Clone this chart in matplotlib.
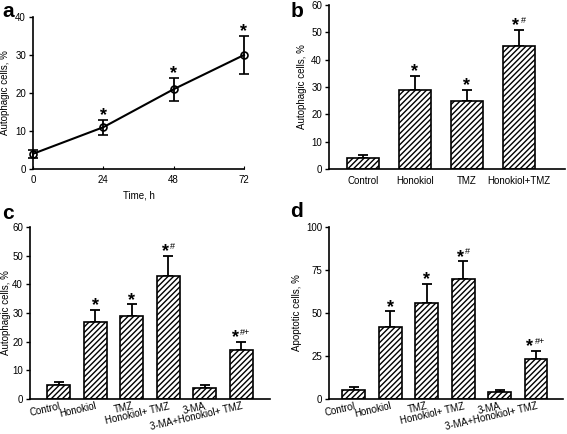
import matplotlib
matplotlib.use("Agg")
import matplotlib.pyplot as plt
import numpy as np

plt.rcParams['font.family'] = ['Liberation Sans', 'DejaVu Sans']
plt.rcParams['hatch.linewidth'] = 1.0
plt.rcParams['axes.linewidth'] = 1.2

# --- data ---
# panel a: time course
time_h = [0, 24, 48, 72]
auto_time = [4, 11, 21, 30]
auto_time_err = [1, 2, 3, 5]
marks_a = ["", "*", "*", "*"]

# panel b
groups_b = ["Control", "Honokiol", "TMZ", "Honokiol+TMZ"]
auto_b = [4, 29, 25, 45]
auto_b_err = [1, 5, 4, 6]
marks_b = ["", "*", "*", "*#"]

# panel c and d
groups_cd = ["Control", "Honokiol", "TMZ", "Honokiol+ TMZ", "3-MA", "3-MA+Honokiol+ TMZ"]
auto_c = [5, 27, 29, 43, 4, 17]
auto_c_err = [1, 4, 4, 7, 1, 3]
apop_d = [5, 42, 56, 70, 4, 23]
apop_d_err = [2, 9, 11, 10, 1, 5]
marks_cd = ["", "*", "*", "*#", "", "*#+"]


def put_mark(ax, x, y, mark):
    # zvezdica + manjsi znaki (# +) desno od nje
    if not mark:
        return
    star, rest = mark[0], mark[1:]
    dx = -2.2 * len(rest)
    ax.annotate(star, xy=(x, y), xytext=(dx, -0.3), textcoords="offset points",
                ha="center", va="baseline", fontsize=13, fontweight="bold",
                annotation_clip=False)
    if rest:
        ax.annotate(rest, xy=(x, y), xytext=(dx + 3.6, 5.0), textcoords="offset points",
                    ha="left", va="baseline", fontsize=6.5, annotation_clip=False)


def style_axes(ax):
    ax.spines["top"].set_visible(False)
    ax.spines["right"].set_visible(False)
    ax.tick_params(axis="y", direction="out", length=3, width=1, labelsize=7, pad=2)
    ax.tick_params(axis="x", labelsize=7)


def bar_panel(ax, vals, errs, marks, labels, xlim, width, ymax, yticks, ylabel, rot):
    x = np.arange(len(vals))
    ax.bar(x, vals, width=width, color="white", edgecolor="black", hatch="//////",
           linewidth=1.2, zorder=2)
    ax.errorbar(x, vals, yerr=[np.zeros(len(errs)), errs], fmt="none", ecolor="black",
                elinewidth=1.3, capsize=3.5, capthick=1.3, zorder=1)
    for xi, v, e, m in zip(x, vals, errs, marks):
        put_mark(ax, xi, v + e, m)
    ax.set_xlim(*xlim)
    ax.set_ylim(0, ymax)
    ax.set_yticks(yticks)
    ax.set_xticks(x)
    if rot:
        ax.set_xticklabels(labels, rotation=13, ha="right", va="top",
                           rotation_mode="anchor", fontsize=6.2)
        ax.tick_params(axis="x", length=0, pad=1.5)
    else:
        ax.set_xticklabels(labels)
        ax.tick_params(axis="x", length=0, pad=5)
    ax.set_ylabel(ylabel, fontsize=7, labelpad=3)
    style_axes(ax)


fig = plt.figure(figsize=(5.67, 4.34), dpi=100)

# a - casovni potek
ax_a = fig.add_axes([0.0582, 0.6106, 0.3721, 0.3502])
ax_a.errorbar(time_h, auto_time, yerr=auto_time_err, color="black", lw=1.5,
              marker="o", ms=5, mfc="none", mec="black", mew=1.2,
              capsize=3.5, capthick=1.3, elinewidth=1.3, clip_on=False)
for t, v, e, m in zip(time_h, auto_time, auto_time_err, marks_a):
    put_mark(ax_a, t, v + e, m)
ax_a.set_xlim(0, 72)
ax_a.set_ylim(0, 40)
ax_a.set_xticks(time_h)
ax_a.set_yticks([0, 10, 20, 30, 40])
ax_a.set_xlabel("Time, h", fontsize=7, labelpad=4)
ax_a.set_ylabel("Autophagic cells, %", fontsize=7, labelpad=4)
style_axes(ax_a)
ax_a.tick_params(axis="x", direction="in", length=2, pad=4)

# b
ax_b = fig.add_axes([0.5802, 0.6106, 0.4162, 0.3779])
bar_panel(ax_b, auto_b, auto_b_err, marks_b, groups_b, (-0.65, 3.89), 0.62,
          60, range(0, 61, 10), "Autophagic cells, %", False)

# c
ax_c = fig.add_axes([0.0529, 0.0806, 0.4233, 0.3963])
bar_panel(ax_c, auto_c, auto_c_err, marks_cd, groups_cd, (-0.79, 5.79), 0.63,
          60, range(0, 61, 10), "Autophagic cells, %", True)
ax_c.yaxis.labelpad = 1

# d
ax_d = fig.add_axes([0.5802, 0.0806, 0.4127, 0.3963])
bar_panel(ax_d, apop_d, apop_d_err, marks_cd, groups_cd, (-0.68, 5.74), 0.63,
          100, [0, 25, 50, 75, 100], "Apoptotic cells, %", True)

# oznake panelov
for lab, (fx, fy) in zip("abcd", [(0.004, 0.995), (0.512, 0.995), (0.004, 0.53), (0.512, 0.535)]):
    fig.text(fx, fy, lab, fontsize=15, fontweight="bold", va="top", ha="left")

fig.savefig("out.png", dpi=100)
